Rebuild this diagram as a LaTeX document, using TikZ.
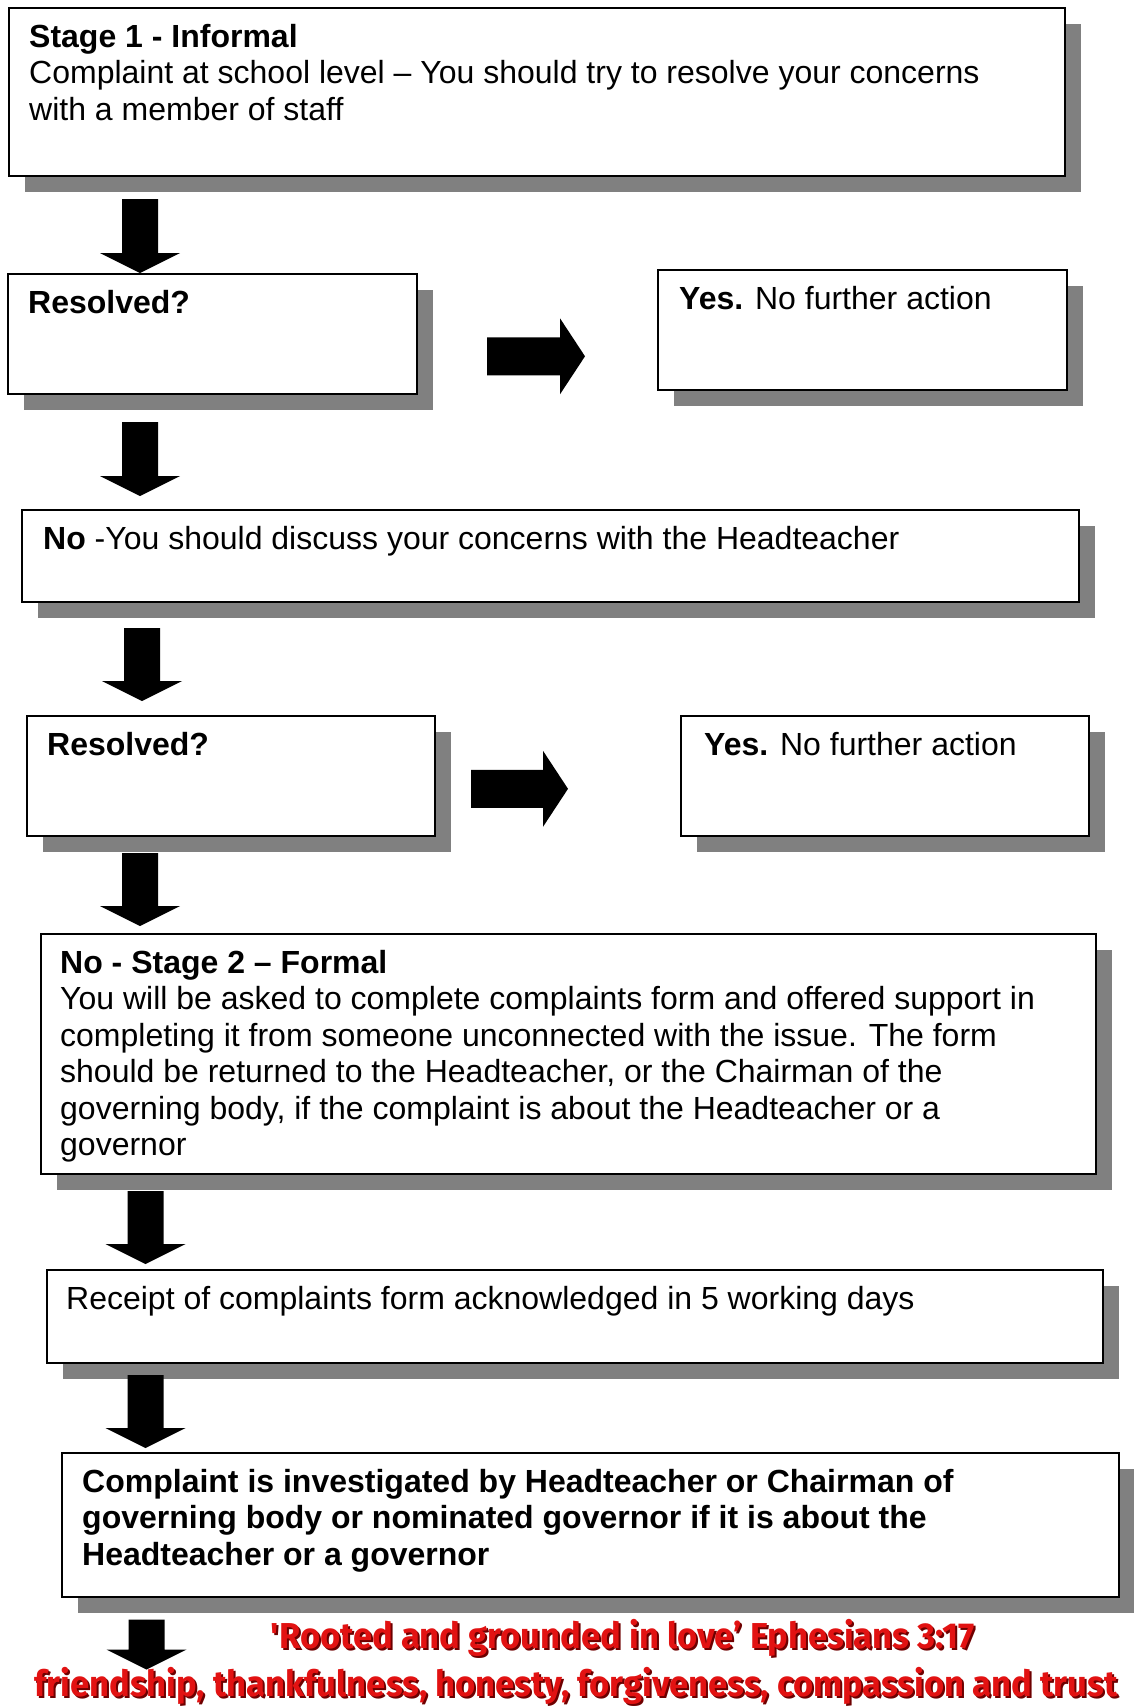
\documentclass[tikz,border=0pt]{standalone}
\usepackage{fontspec}
\setmainfont{Liberation Sans}
\newfontfamily\mottofont[FakeStretch=0.96]{Fira Sans}
\usetikzlibrary{shadows}

\definecolor{shadowgray}{RGB}{128,128,128}
\definecolor{mottored}{RGB}{226,18,18}
\definecolor{mottodark}{RGB}{110,0,0}

\newcommand{\boxfont}{\fontsize{32}{36.5}\selectfont}
\newcommand{\firstline}{\rule{0pt}{30pt}}
% fat arrows, #1 = tip, #2 = length
\newcommand{\downblock}[2]{\fill[black, shift={(#1)}] (-18,-#2) -- (18,-#2) -- (18,-20) -- (40,-20) -- (0,0) -- (-40,-20) -- (-18,-20) -- cycle;}
\newcommand{\rightblock}[2]{\fill[black, shift={(#1)}] (-#2,-19) -- (-25,-19) -- (-25,-38) -- (0,0) -- (-25,38) -- (-25,19) -- (-#2,19) -- cycle;}

\tikzset{
  stepbox/.style={draw=black, line width=1.6pt, fill=white, anchor=north west, inner sep=0pt,
    drop shadow={shadow xshift=16pt, shadow yshift=-16pt, fill=shadowgray, opacity=1}},
  boxtext/.style={anchor=north west, inner sep=0pt, align=left, font=\boxfont},
  motto/.style={anchor=base, inner sep=0pt, font=\mottofont\bfseries\fontsize{36}{40}\selectfont}
}

\begin{document}
\begin{tikzpicture}[x=1pt, y=-1pt]

    \useasboundingbox (0,0) rectangle (1134,1708);

    % boxes:
    \node[stepbox, minimum width=1056pt, minimum height=168pt] (stageone) at (8,7) {};
    \node[stepbox, minimum width=409pt, minimum height=120pt] (resolvedone) at (7,273) {};
    \node[stepbox, minimum width=409pt, minimum height=120pt] (yesone) at (657,269) {};
    \node[stepbox, minimum width=1057pt, minimum height=92pt] (nobox) at (21,509) {};
    \node[stepbox, minimum width=408pt, minimum height=120pt] (resolvedtwo) at (26,715) {};
    \node[stepbox, minimum width=408pt, minimum height=120pt] (yestwo) at (680,715) {};
    \node[stepbox, minimum width=1055pt, minimum height=240pt] (stagetwo) at (40,933) {};
    \node[stepbox, minimum width=1056pt, minimum height=93pt] (receipt) at (46,1269) {};
    \node[stepbox, minimum width=1057pt, minimum height=144pt] (investigate) at (61,1452) {};

    % texts:
    \node[boxtext] (stageonetxt) at ([shift={(21,10)}]stageone.north west)
      {\firstline\textbf{Stage 1 - Informal}\\
       Complaint at school level – You should try to resolve your concerns\\
       with a member of staff};
    \node[boxtext] (resolvedonetxt) at ([shift={(21,10)}]resolvedone.north west) {\firstline\textbf{Resolved?}};
    \node[boxtext] (yesonetxt) at ([shift={(22,10)}]yesone.north west) {\firstline\textbf{Yes.} No further action};
    \node[boxtext] (noboxtxt) at ([shift={(22,10)}]nobox.north west)
      {\firstline\textbf{No} -You should discuss your concerns with the Headteacher};
    \node[boxtext] (resolvedtwotxt) at ([shift={(21,10)}]resolvedtwo.north west) {\firstline\textbf{Resolved?}};
    \node[boxtext] (yestwotxt) at ([shift={(24,10)}]yestwo.north west) {\firstline\textbf{Yes.} No further action};
    \node[boxtext] (stagetwotxt) at ([shift={(20,10)}]stagetwo.north west)
      {\firstline\textbf{No - Stage 2 – Formal}\\
       You will be asked to complete complaints form and offered support in\\
       completing it from someone unconnected with the issue. The form\\
       should be returned to the Headteacher, or the Chairman of the\\
       governing body, if the complaint is about the Headteacher or a\\
       governor};
    \node[boxtext] (receipttxt) at ([shift={(20,10)}]receipt.north west)
      {\firstline Receipt of complaints form acknowledged in 5 working days};
    \node[boxtext, font=\boxfont\bfseries] (investigatetxt) at ([shift={(21,10)}]investigate.north west)
      {\firstline Complaint is investigated by Headteacher or Chairman of\\
       governing body or nominated governor if it is about the\\
       Headteacher or a governor};

    % arrow tips:
    \coordinate (tip1) at ([shift={(133,0)}]resolvedone.north west);
    \coordinate (tip2) at ([shift={(119,-13)}]nobox.north west);
    \coordinate (tip3) at ([shift={(116,-14)}]resolvedtwo.north west);
    \coordinate (tip4) at ([shift={(100,-7)}]stagetwo.north west);
    \coordinate (tip5) at ([shift={(99.5,-5)}]receipt.north west);
    \coordinate (tip6) at ([shift={(84.5,-4)}]investigate.north west);
    \coordinate (tip7) at ([shift={(85.5,72)}]investigate.south west);
    \coordinate (rtip1) at ([shift={(-72,26.5)}]yesone.west);
    \coordinate (rtip2) at ([shift={(-112,13)}]yestwo.west);

    \downblock{tip1}{74}
    \downblock{tip2}{74}
    \downblock{tip3}{73}
    \downblock{tip4}{73}
    \downblock{tip5}{73}
    \downblock{tip6}{73}
    \downblock{tip7}{50}
    \rightblock{rtip1}{98}
    \rightblock{rtip2}{97}

    % motto:
    \node[motto, text=mottodark] (verseshadow) at (625,1650) {'Rooted and grounded in love’ Ephesians 3:17};
    \node[motto, text=mottored] (verse) at (623,1648) {'Rooted and grounded in love’ Ephesians 3:17};
    \node[motto, text=mottodark] (valuesshadow) at (578,1698) {friendship, thankfulness, honesty, forgiveness, compassion and trust};
    \node[motto, text=mottored] (values) at (576,1696) {friendship, thankfulness, honesty, forgiveness, compassion and trust};

\end{tikzpicture}
\end{document}
